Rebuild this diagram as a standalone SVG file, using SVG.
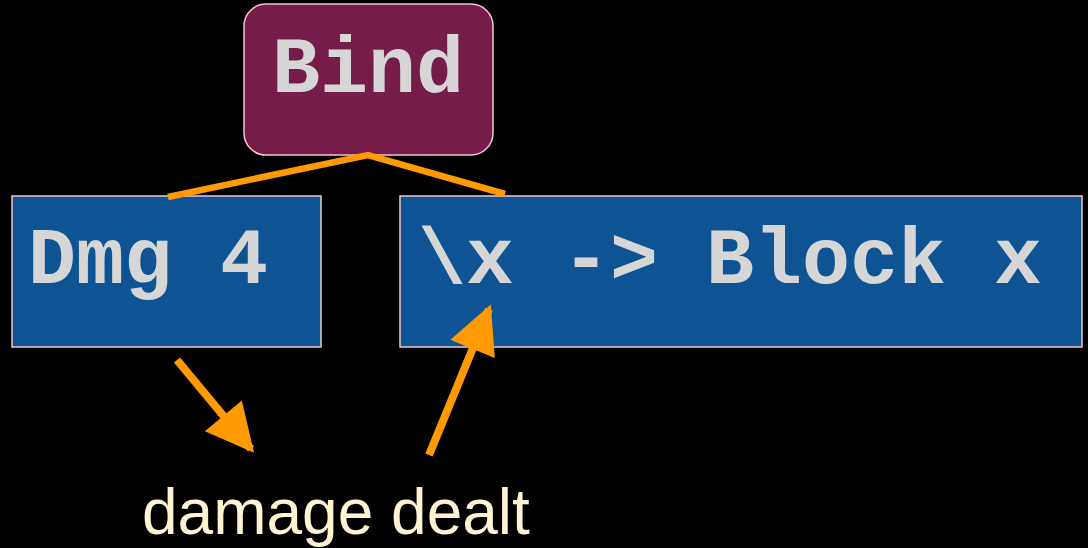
<svg xmlns="http://www.w3.org/2000/svg" width="1088" height="548" viewBox="0 0 1088 548">
  <style>
    .code { font-family: "Liberation Mono", "Courier New", monospace; font-weight: bold; font-size: 80px; fill: #d6d6d6; }
    .box { fill: #0e5494; stroke: #f2c6cc; stroke-width: 1.5; }
    .link { stroke: #ff9a00; stroke-width: 6.5; fill: none; }
    .pointer { stroke: #ff9a00; stroke-width: 8; fill: none; }
    .note { font-family: "Liberation Sans", Arial, sans-serif; font-size: 64px; fill: #fff3d2; }
  </style>
  <defs>
    <marker id="head" viewBox="0 0 10 10" refX="9" refY="5" markerWidth="7" markerHeight="6" markerUnits="strokeWidth" orient="auto">
      <path d="M0,0 L10,5 L0,10 z" fill="#ff9a00"/>
    </marker>
  </defs>
  <rect width="1088" height="548" fill="#000"/>

  <g id="bind">
    <rect x="244" y="4" width="249" height="151" rx="22" fill="#751c48" stroke="#f2c6cc" stroke-width="1.5"/>
    <text class="code" x="368" y="92" text-anchor="middle">Bind</text>
  </g>

  <g id="dmg">
    <rect class="box" x="12" y="196" width="309" height="151"/>
    <text class="code" x="28" y="283">Dmg 4</text>
  </g>

  <g id="lambda">
    <rect class="box" x="400" y="196" width="682" height="151"/>
    <text class="code" x="418" y="283">\x -&gt; Block x</text>
  </g>

  <g id="label">
    <text class="note" x="142" y="534">damage dealt</text>
  </g>

  <!-- tree links and the two pointer arrows, drawn over the boxes -->
  <g id="connectors">
    <polyline class="link" points="168,197 368,155 505,194"/>
    <line class="pointer" x1="177" y1="360" x2="251" y2="449" marker-end="url(#head)"/>
    <line class="pointer" x1="429" y1="455" x2="489" y2="309" marker-end="url(#head)"/>
  </g>
</svg>
